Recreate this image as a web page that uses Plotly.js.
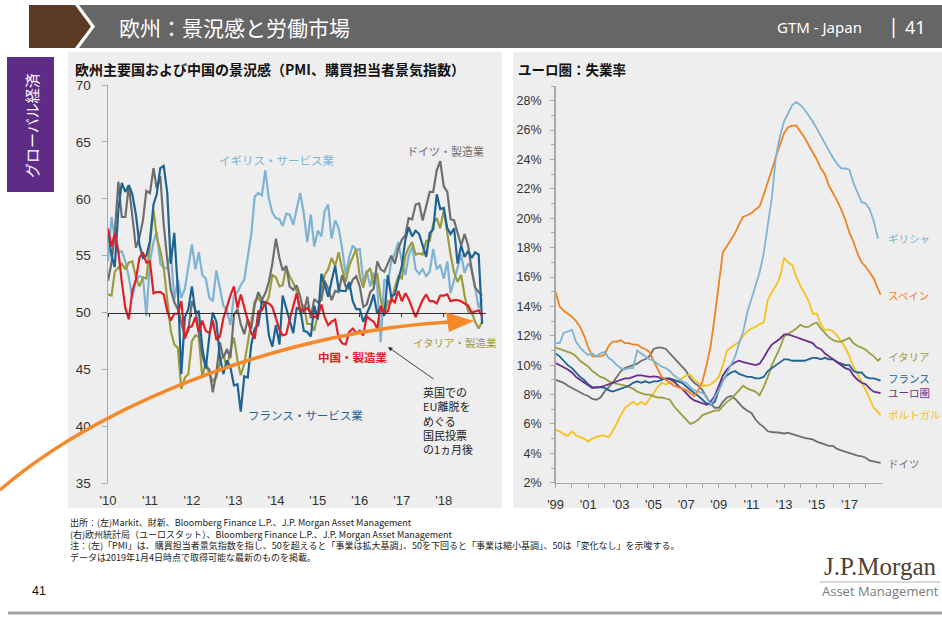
<!DOCTYPE html>
<html><head><meta charset="utf-8">
<script src="https://cdn.plot.ly/plotly-3.0.1.min.js"></script>
<style>html,body{margin:0;padding:0;background:#fff;}#chart{width:942px;height:619px;}</style>
</head><body><div id="chart"></div>
<script>
// ---------- LEFT: PMI (monthly, Jan 2010 - Dec 2018) ----------
const ukServices = [
54.5,58.4,56.5,55.3,55.4,54.5,53.1,51.3,52.8,53.2,53.1,49.7,
54.5,56.2,57.1,54.3,53.9,53.9,55.4,51.1,52.9,51.3,52.1,54.0,
56.0,53.8,55.3,53.3,53.0,51.3,51.0,53.7,52.2,50.6,50.2,48.9,
51.5,51.8,52.4,52.9,54.9,56.9,60.2,60.5,60.3,62.5,60.0,58.8,
58.3,58.2,57.6,58.7,58.6,57.7,59.1,60.5,58.7,56.2,58.6,55.8,
57.2,56.7,58.9,59.5,56.5,58.1,57.4,55.6,53.3,54.9,55.9,55.5,
55.6,52.7,53.7,52.3,53.5,52.3,47.4,52.9,52.6,54.5,55.2,56.2,
54.5,53.3,55.0,55.8,53.8,53.4,53.8,53.2,53.6,55.6,53.8,54.2,
53.0,54.5,51.7,52.8,54.0,55.1,53.5,54.3,53.9,52.2,50.4,51.2];
const germanyMfg = [
52.8,54.4,57.0,61.5,58.4,58.4,61.2,58.2,55.7,56.6,58.1,60.7,
60.5,62.7,60.9,62.0,57.7,54.6,52.0,50.9,50.3,49.1,47.9,48.4,
51.0,50.2,48.4,46.2,45.2,45.0,43.0,44.7,47.4,46.0,46.8,46.0,
49.8,50.3,49.0,48.1,49.4,48.6,50.7,51.8,51.1,51.7,52.7,54.3,
56.5,54.8,53.7,54.1,52.3,52.0,52.4,51.4,49.9,51.4,49.5,51.2,
50.9,51.1,52.8,52.1,51.1,51.9,51.8,53.3,52.3,52.1,52.9,53.2,
52.3,50.5,50.7,51.8,52.1,54.5,53.8,53.6,54.3,55.0,54.3,55.6,
56.4,56.8,58.3,58.2,59.5,59.6,58.1,59.3,60.6,60.6,62.5,63.3,
61.1,60.6,58.2,58.1,56.9,55.9,56.9,55.9,53.7,52.2,51.8,51.5];
const franceServices = [
57.2,55.0,54.0,59.0,61.4,60.6,61.2,60.4,58.6,56.0,54.8,55.0,
56.3,59.5,60.4,62.7,62.9,60.5,54.3,57.0,52.0,44.6,49.6,50.3,
52.3,50.0,50.1,46.9,45.1,47.9,50.0,49.2,46.1,44.6,45.8,45.2,
43.6,43.7,41.3,44.4,44.3,47.2,48.6,48.9,51.0,50.9,48.0,47.0,
48.9,47.2,51.5,50.4,49.1,48.2,50.4,50.3,48.4,48.3,47.9,50.6,
49.4,53.4,52.4,51.4,52.8,54.1,52.0,51.9,51.9,52.7,51.0,50.3,
50.3,49.2,49.9,50.6,51.6,49.9,50.5,49.7,53.3,51.4,51.6,52.9,
54.1,56.4,57.5,56.7,57.2,56.9,56.0,54.9,57.0,57.3,60.4,59.1,
59.2,57.4,56.9,57.4,54.3,55.9,54.9,55.4,54.8,55.3,55.1,49.0];
const italyMfg = [
51.6,51.5,53.6,54.0,54.3,53.8,54.4,54.5,53.1,52.3,53.1,53.0,
56.0,59.0,56.6,55.5,53.9,51.0,48.4,47.2,46.9,43.3,44.3,44.6,
47.5,48.0,47.9,44.3,45.7,44.6,44.0,44.3,45.7,46.3,45.1,46.7,
47.8,45.8,44.5,45.5,47.3,49.1,51.0,51.3,50.8,50.7,51.4,53.3,
53.1,52.3,52.4,54.0,53.2,52.6,51.9,49.8,50.7,49.0,49.0,48.4,
49.9,51.9,53.3,53.8,54.8,54.1,55.3,53.8,52.7,54.1,54.9,55.6,
53.2,52.2,53.5,53.9,52.4,53.5,51.2,49.8,51.0,50.9,52.2,53.2,
53.0,55.0,55.7,56.2,55.1,55.2,55.1,56.3,56.3,57.8,58.3,57.4,
59.0,56.8,55.1,53.5,52.7,53.3,51.5,50.1,50.0,49.2,48.6,49.2];
const chinaMfg = [
57.4,55.8,57.0,55.4,52.7,50.4,49.4,51.9,52.9,54.8,55.3,54.4,
54.5,51.7,51.8,51.8,51.6,50.1,49.3,49.9,49.9,51.0,47.7,48.7,
48.8,49.6,48.3,49.3,48.4,48.2,49.3,47.6,47.9,49.5,50.5,51.5,
52.3,50.4,51.6,50.4,49.2,48.2,47.7,50.1,50.2,50.9,50.8,50.5,
49.5,48.5,48.0,48.1,49.4,50.7,51.7,50.2,50.2,50.4,50.0,49.6,
49.7,50.7,49.6,48.9,49.2,49.4,47.8,47.3,47.2,48.3,48.6,48.2,
48.4,48.0,49.7,49.4,49.2,48.6,50.6,50.0,50.1,51.2,50.9,51.9,
51.0,51.7,51.2,50.3,49.6,50.4,51.1,51.6,51.0,51.0,50.8,51.5,
51.5,51.6,51.0,51.1,51.1,51.0,50.8,50.6,50.0,50.1,50.2,49.7];

// ---------- RIGHT: Unemployment (quarterly readings, 1999 - Nov 2018) ----------
const greeceU = [
11.5,11.5,12.2,12.3, 12.4,11.6,11.2,10.9, 10.7,10.8,10.6,10.8, 10.9,10.5,10.3,10.0,
9.8,9.7,9.8,9.8, 11.0,10.8,10.6,10.4, 10.3,10.1,9.9,9.8, 9.6,9.3,9.1,8.9,
8.8,8.5,8.3,8.2, 8.1,7.9,7.3,7.8, 8.3,8.9,9.5,10.0, 10.6,11.5,12.3,13.6,
14.5,15.4,16.3,17.6, 19.4,21.4,24.2,25.6, 26.6,27.2,27.7,27.9, 27.7,27.4,27.0,26.6,
26.1,25.6,25.2,24.6, 24.1,23.7,23.4,23.4, 23.3,22.4,21.8,21.1, 21.0,20.6,19.8,18.6, null];
const spainU = [
15.0,14.0,13.7,13.5, 13.3,13.0,12.6,12.0, 11.2,10.6,10.6,10.6, 10.7,11.3,11.6,11.6,
11.7,11.5,11.5,11.4, 11.4,11.2,11.1,10.9, 10.3,9.7,9.2,9.0, 8.8,8.6,8.5,8.4,
8.3,8.1,7.9,8.3, 8.9,10.0,11.3,13.3, 15.5,17.7,18.1,18.6, 19.0,19.6,20.1,20.2,
20.35,20.6,20.8,21.6, 22.4,23.3,24.2,25.0, 25.8,26.2,26.3,26.3, 25.9,25.5,25.0,24.5,
24.0,23.4,23.0,22.2, 21.7,21.2,20.6,19.9, 19.0,18.4,17.6,17.0, 16.7,16.3,15.9,15.2, 14.8];
const italyU = [
11.2,11.1,11.0,10.9, 10.8,10.6,10.3,10.1, 9.9,9.6,9.4,9.2, 9.1,8.9,8.8,8.75,
8.7,8.6,8.5,8.4, 8.2,8.1,8.0,8.0, 7.9,7.8,7.8,7.7, 7.65,7.2,6.9,6.6,
6.3,6.0,6.1,6.3, 6.6,6.7,6.8,6.9, 6.9,7.2,7.5,7.7, 8.0,8.3,8.6,8.4,
8.3,8.2,7.95,8.5, 9.2,10.0,10.6,11.2, 11.95,12.1,12.3,12.5, 12.75,12.6,12.6,12.8,
12.9,12.5,12.2,11.9, 11.7,11.6,11.6,11.7, 11.85,11.5,11.3,11.2, 11.05,10.8,10.6,10.3, 10.5];
const franceU = [
10.8,10.6,10.3,10.0, 9.8,9.5,9.2,9.0, 8.7,8.5,8.45,8.5, 8.45,8.3,8.2,8.3,
8.4,8.5,8.6,8.8, 8.9,8.8,8.9,8.8, 8.9,8.9,9.0,9.1, 9.1,9.0,8.9,8.8,
8.55,8.3,8.1,7.9, 7.65,7.4,7.3,7.5, 8.3,9.0,9.3,9.5, 9.6,9.4,9.3,9.2,
9.2,9.1,9.1,9.2, 9.6,9.8,10.0,10.2, 10.4,10.4,10.3,10.3, 10.3,10.3,10.4,10.5,
10.5,10.4,10.5,10.4, 10.4,10.2,10.1,10.0, 10.0,9.6,9.5,9.5, 9.2,9.1,9.1,9.0, 8.95];
const euroAreaU = [
10.15,10.0,9.9,9.7, 9.5,9.2,9.0,8.8, 8.6,8.45,8.5,8.5, 8.6,8.7,8.8,8.9,
9.05,9.1,9.1,9.2, 9.3,9.3,9.25,9.2, 9.24,9.2,9.1,9.1, 9.05,8.9,8.6,8.4,
8.1,7.8,7.6,7.5, 7.4,7.3,7.5,7.9, 8.6,9.3,9.7,10.0, 10.2,10.3,10.2,10.15,
10.1,10.0,10.1,10.5, 11.0,11.4,11.6,11.8, 12.1,12.1,12.0,11.9, 11.85,11.7,11.6,11.5,
11.2,11.1,10.8,10.6, 10.4,10.2,10.0,9.8, 9.7,9.3,9.0,8.8, 8.7,8.4,8.2,8.15, 8.1];
const portugalU = [
5.6,5.5,5.3,5.2, 5.5,5.2,5.1,5.0, 4.8,5.0,5.1,5.2, 5.2,5.1,5.5,6.0,
6.6,7.1,7.3,7.5, 7.3,7.5,7.3,7.7, 8.1,8.5,8.8,8.7, 8.8,8.9,8.9,9.1,
9.3,9.35,9.0,8.8, 8.6,8.6,8.7,8.9, 9.2,10.0,11.0,11.2, 11.4,11.6,12.0,12.3,
12.5,12.6,12.8,12.9, 14.45,15.0,15.4,16.0, 17.3,17.0,16.8,16.0, 15.4,14.9,14.4,13.5,
13.5,12.8,12.4,12.4, 12.3,12.0,11.6,11.2, 10.6,9.9,9.4,8.9, 8.3,7.7,7.1,6.8, 6.6];
const germanyU = [
9.0,8.9,8.8,8.6, 8.45,8.3,8.1,8.0, 7.9,7.7,7.65,7.8, 8.2,8.5,8.8,9.2,
9.6,9.8,9.9,10.0, 10.1,10.3,10.4,10.6, 11.1,11.2,11.2,11.1, 10.8,10.5,10.2,9.9,
9.6,9.1,8.8,8.6, 8.3,7.8,7.4,7.1, 7.1,7.5,7.8,7.9, 7.7,7.4,7.1,6.9,
6.75,6.3,6.0,5.8, 5.5,5.45,5.4,5.4, 5.35,5.4,5.3,5.2, 5.15,5.05,5.0,4.95,
4.8,4.7,4.6,4.5, 4.5,4.3,4.2,4.1, 4.0,3.9,3.85,3.8, 3.7,3.5,3.45,3.4, 3.35];

const footerLines = [
  '出所：(左)Markit、財新、Bloomberg Finance L.P.、J.P. Morgan Asset Management',
  '(右)欧州統計局（ユーロスタット）、Bloomberg Finance L.P.、J.P. Morgan Asset Management',
  '注：(左)「PMI」は、購買担当者景気指数を指し、50を超えると「事業は拡大基調」、50を下回ると「事業は縮小基調」、50は「変化なし」を示唆する。',
  'データは2019年1月4日時点で取得可能な最新のものを掲載。'
];

// ---------- dates ----------
const leftDates = [];
for (let y = 2010; y <= 2018; y++) for (let m = 1; m <= 12; m++) leftDates.push(y + '-' + String(m).padStart(2,'0') + '-01');
const rightDates = [];
for (let y = 1999; y <= 2018; y++) for (const m of [1,4,7,10]) rightDates.push(y + '-' + String(m).padStart(2,'0') + '-01');
rightDates.push('2018-11-30');

// ---------- styling ----------
const C = {uk:'#7db3d4', de:'#6e6e6e', fr:'#1d6394', it:'#9c9c3f', cn:'#de2128',
           es:'#f0821e', pt:'#f5c21b', ez:'#6a2d8a', orange:'#f5892a'};
const W = 942, H = 619;
const px = x => x / W, py = y => 1 - y / H;
const JP = 'Noto Sans CJK JP, Noto Sans, sans-serif';
const NUM = 'Liberation Sans, Arial, sans-serif';

const LY = {range:[35,70], domain:[py(483.3), py(85)]};
const LX = {range:['2010-01-01','2018-12-31'], domain:[px(108), px(485.6)]};
const pos50 = LY.domain[0] + (50 - LY.range[0]) / (LY.range[1] - LY.range[0]) * (LY.domain[1] - LY.domain[0]);

function line(x, y, color, w, xa, ya, name) {
  return {type:'scatter', mode:'lines', x:x, y:y, name:name, xaxis:xa, yaxis:ya,
          line:{color:color, width:w}, hoverinfo:'skip', connectgaps:false};
}
const traces = [
  line(leftDates, ukServices, C.uk, 2.2, 'x', 'y', 'UK services'),
  line(leftDates, italyMfg, C.it, 2.2, 'x', 'y', 'Italy mfg'),
  line(leftDates, germanyMfg, C.de, 2.2, 'x', 'y', 'Germany mfg'),
  line(leftDates, franceServices, C.fr, 2.2, 'x', 'y', 'France services'),
  line(leftDates, chinaMfg, C.cn, 2.2, 'x3', 'y', 'China mfg'),
  line(rightDates, germanyU, C.de, 1.8, 'x2', 'y2', 'Germany'),
  line(rightDates, portugalU, C.pt, 1.8, 'x2', 'y2', 'Portugal'),
  line(rightDates, italyU, C.it, 1.8, 'x2', 'y2', 'Italy'),
  line(rightDates, franceU, C.fr, 1.8, 'x2', 'y2', 'France'),
  line(rightDates, euroAreaU, C.ez, 1.8, 'x2', 'y2', 'Euro area'),
  line(rightDates, spainU, C.es, 1.8, 'x2', 'y2', 'Spain'),
  line(rightDates, greeceU, C.uk, 1.8, 'x2', 'y2', 'Greece')
];

function rect(x0,y0,x1,y1,fill,layer){return {type:'rect',xref:'paper',yref:'paper',x0:px(x0),x1:px(x1),y0:py(y1),y1:py(y0),fillcolor:fill,line:{width:0},layer:layer||'below'};}
function poly(pts,fill,layer){return {type:'path',xref:'paper',yref:'paper',path:'M '+pts.map(p=>px(p[0])+','+py(p[1])).join(' L ')+' Z',fillcolor:fill,line:{width:0},layer:layer||'below'};}

const shapes = [
  rect(75,5,942,48,'#666666'),
  poly([[29,5],[79,5],[95,26.5],[79,48],[29,48]],'#ffffff'),
  poly([[29,5],[75,5],[91,26.5],[75,48],[29,48]],'#5b3b24'),
  rect(7,57,54,192,'#5e2b86'),
  rect(68,52,502,508,'#eeeeee'),
  rect(513,52,942,508,'#eeeeee'),
  {type:'line',xref:'paper',yref:'paper',x0:px(820),x1:px(940),y0:py(582),y1:py(582),line:{color:'#b0b0b0',width:1}},
  {type:'line',xref:'paper',yref:'paper',x0:px(8),x1:1,y0:py(613),y1:py(613),line:{color:'#a3a3a3',width:3}},
  {type:'path',xref:'paper',yref:'paper',layer:'above',
   path:'M '+px(0)+','+py(490)+' C '+px(110)+','+py(395)+' '+px(300)+','+py(330)+' '+px(449)+','+py(322),
   line:{color:C.orange,width:3.5}},
  poly([[446,312.5],[474,321],[449,332]],C.orange,'above')
];

function ann(text,x,y,opt){return Object.assign({text:text,xref:'paper',yref:'paper',x:px(x),y:py(y),showarrow:false,xanchor:'left',yanchor:'middle',font:{family:JP,size:11,color:'#222'}},opt||{});}
const annotations = [
  ann('欧州：景況感と労働市場',117,27,{font:{family:JP,size:21,color:'#ffffff'}}),
  ann('GTM - Japan',775,27,{font:{family:'Noto Sans, sans-serif',size:15,color:'#ffffff'}}),
  ann('|',886,26,{font:{family:'Noto Sans, sans-serif',size:20,color:'#ffffff'}}),
  ann('41',903,27,{font:{family:'Noto Sans, sans-serif',size:18,color:'#ffffff'}}),
  ann('グローバル経済',31,126,{xanchor:'center',textangle:-90,font:{family:JP,size:15,color:'#ffffff'}}),
  ann('<b>欧州主要国および中国の景況感（PMI、購買担当者景気指数）</b>',73,69,{font:{family:JP,size:14,color:'#111'}}),
  ann('<b>ユーロ圏：失業率</b>',516,69,{font:{family:JP,size:13.5,color:'#111'}}),
  // left series labels
  ann('イギリス・サービス業',217,160,{font:{family:JP,size:11.5,color:C.uk}}),
  ann('ドイツ・製造業',405,151,{font:{family:JP,size:11,color:C.de}}),
  ann('<b>中国・製造業</b>',316,357,{font:{family:JP,size:11.5,color:C.cn}}),
  ann('イタリア・製造業',411,342,{font:{family:JP,size:10.5,color:C.it}}),
  ann('フランス・サービス業',246,415,{font:{family:JP,size:11.5,color:C.fr}}),
  ann('英国での<br>EU離脱を<br>めぐる<br>国民投票<br>の1ヵ月後',421,382,{yanchor:'top',align:'left',font:{family:JP,size:11,color:'#222'}}),
  {text:'',xref:'paper',yref:'paper',x:px(388),y:py(347),ax:47,ay:33,showarrow:true,arrowhead:2,arrowsize:1,arrowwidth:0.9,arrowcolor:'#333'},
  // right series labels
  ann('ギリシャ',886,238,{font:{family:JP,size:10.5,color:C.uk}}),
  ann('スペイン',886,295,{font:{family:JP,size:10.5,color:C.es}}),
  ann('イタリア',886,356,{font:{family:JP,size:10.5,color:C.it}}),
  ann('フランス',886,378,{font:{family:JP,size:10.5,color:C.fr}}),
  ann('ユーロ圏',886,392,{font:{family:JP,size:10.5,color:C.ez}}),
  ann('ポルトガル',886,414,{font:{family:JP,size:10.5,color:C.pt}}),
  ann('ドイツ',886,463,{font:{family:JP,size:10.5,color:C.de}}),
  // footer
  ann(footerLines.join('<br>'),68,514,{yanchor:'top',align:'left',font:{family:JP,size:9,color:'#222'}}),
  ann('41',30,591,{font:{family:NUM,size:12.5,color:'#111'}}),
  ann('J.P.Morgan',880,566,{xanchor:'center',font:{family:'Liberation Serif, serif',size:25,color:'#4d3f33'}}),
  ann('Asset Management',880,591,{xanchor:'center',font:{family:'Open Sans, sans-serif',size:13,color:'#7a7a7a'}})
];

const layout = {
  width:W, height:H, margin:{l:0,r:0,t:0,b:0},
  paper_bgcolor:'#ffffff', plot_bgcolor:'rgba(0,0,0,0)',
  showlegend:false, hovermode:false,
  xaxis:{type:'date', domain:LX.domain, range:LX.range, anchor:'y', dtick:'M12', tick0:'2010-01-01',
         tickformat:"'%y", showline:false, ticks:'', showgrid:false, zeroline:false,
         ticklabelstandoff:8, tickfont:{family:NUM,size:13,color:'#333'}},
  xaxis3:{type:'date', overlaying:'x', anchor:'free', position:pos50, range:LX.range, dtick:'M12', tick0:'2010-01-01',
          showline:true, linecolor:'#333', linewidth:1, ticks:'outside', ticklen:3, tickcolor:'#333',
          showticklabels:false, showgrid:false, zeroline:false},
  yaxis:{domain:LY.domain, range:LY.range, anchor:'x', dtick:5, tick0:35, showline:true, linecolor:'#aaaaaa', linewidth:1.5,
         ticks:'outside', ticklen:5, tickcolor:'#aaaaaa', showgrid:false, zeroline:false,
         ticklabelstandoff:8, tickfont:{family:NUM,size:13.5,color:'#333'}},
  xaxis2:{type:'date', domain:[px(555.6), px(882)], range:['1999-01-01','2018-12-31'], anchor:'y2',
          dtick:'M24', tick0:'1999-01-01', tickformat:"'%y", showline:true, linecolor:'#aaaaaa', linewidth:1.5,
          ticks:'outside', ticklen:4, tickcolor:'#aaaaaa', showgrid:false, zeroline:false,
          minor:{dtick:'M12', ticks:'outside', ticklen:4, tickcolor:'#aaaaaa', showgrid:false},
          ticklabelstandoff:5, tickfont:{family:NUM,size:13,color:'#333'}},
  yaxis2:{domain:[py(482.7), py(86)], range:[2,29], anchor:'x2', dtick:2, tick0:2, ticksuffix:'%',
          showline:true, linecolor:'#aaaaaa', linewidth:1.5, ticks:'outside', ticklen:4, tickcolor:'#aaaaaa',
          minor:{dtick:1, ticks:'outside', ticklen:3, tickcolor:'#aaaaaa', showgrid:false},
          showgrid:false, zeroline:false, ticklabelstandoff:6, tickfont:{family:NUM,size:12.5,color:'#333'}},
  shapes:shapes, annotations:annotations
};
Plotly.newPlot('chart', traces, layout, {displayModeBar:false, staticPlot:true});
</script></body></html>
